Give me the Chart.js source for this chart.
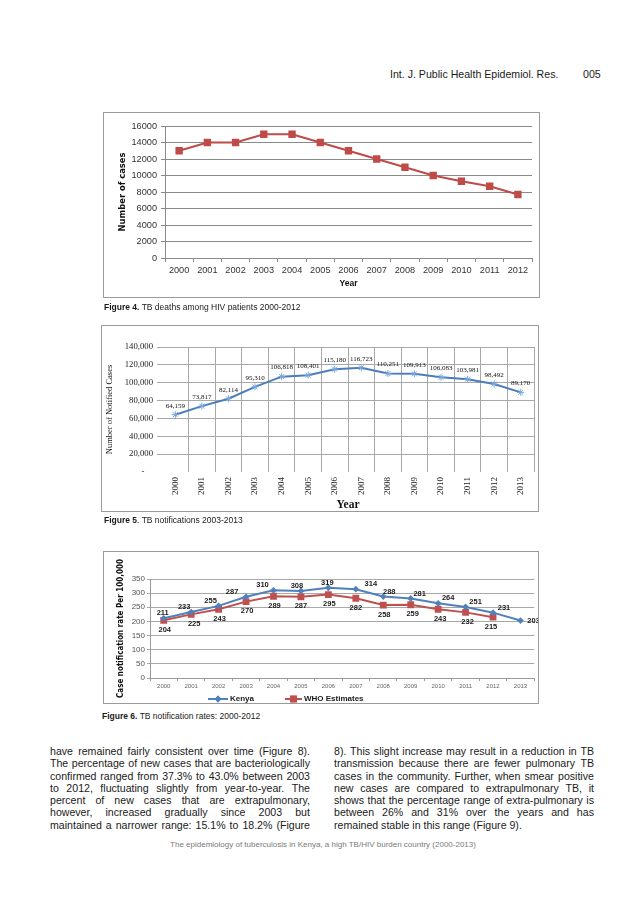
<!DOCTYPE html>
<html>
<head>
<meta charset="utf-8">
<script src="https://cdn.jsdelivr.net/npm/chart.js@4.4.1/dist/chart.umd.min.js"></script>
<style>
  body { margin: 0; background: #fff; }
  #page { position: relative; width: 638px; height: 903px; overflow: hidden; background: #fff;
          font-family: "Liberation Sans", Arial, sans-serif; color: #1a1a1a; }
  .box { position: absolute; border: 1px solid #9a9a9a; box-sizing: border-box; pointer-events: none; }
  canvas { position: absolute; }
  .txt { position: absolute; white-space: nowrap; }
  .cap { position: absolute; white-space: nowrap; font-size: 8.5px; line-height: 10px; color: #1a1a1a; }
  .col { position: absolute; width: 260px; font-size: 10.6px; }
  .ln { height: 12.25px; line-height: 12.25px; white-space: nowrap; }
  .ln.j { display: flex; justify-content: space-between; }
</style>
</head>
<body>
<div id="page">
  <div class="txt" style="left:390px;top:68px;font-size:10.6px;line-height:12px;">Int. J. Public Health Epidemiol. Res.</div>
  <div class="txt" style="left:583px;top:68px;font-size:10.6px;line-height:12px;">005</div>

  <canvas id="c1" width="437" height="186" style="left:103px;top:112px;"></canvas>
  <div class="box" style="left:103px;top:112px;width:437px;height:186px;"></div>
  <div class="cap" style="left:104px;top:302px;"><b>Figure 4.</b> TB deaths among HIV patients 2000-2012</div>

  <canvas id="c2" width="438" height="187" style="left:101px;top:325px;"></canvas>
  <div class="box" style="left:101px;top:325px;width:438px;height:187px;"></div>
  <div class="cap" style="left:104px;top:515px;"><b>Figure 5</b>. TB notifications 2003-2013</div>

  <canvas id="c3" width="436" height="153" style="left:103px;top:551px;"></canvas>
  <div class="box" style="left:103px;top:551px;width:436px;height:153px;"></div>
  <div class="cap" style="left:102px;top:711px;"><b>Figure 6.</b> TB notification rates: 2000-2012</div>

  <div class="col" id="colL" style="left:50px;top:745px;"></div>
  <div class="col" id="colR" style="left:334px;top:745px;"></div>

  <div class="txt" style="left:0;width:646px;text-align:center;top:840px;font-size:8px;line-height:10px;color:#7a7a7a;">The epidemiology of tuberculosis in Kenya, a high TB/HIV burden country (2000-2013)</div>
</div>

<script>
// ---------------- data ----------------
const fig4Years = ['2000','2001','2002','2003','2004','2005','2006','2007','2008','2009','2010','2011','2012'];
const fig4Deaths = [13000, 14000, 14000, 15000, 15000, 14000, 13000, 12000, 11000, 10000, 9300, 8700, 7700];

const fig5Years = ['2000','2001','2002','2003','2004','2005','2006','2007','2008','2009','2010','2011','2012','2013'];
const fig5Notified = [64159, 73817, 82114, 95310, 106818, 108401, 115180, 116723, 110251, 109913, 106083, 103981, 98492, 89170];

const fig6Years = ['2000','2001','2002','2003','2004','2005','2006','2007','2008','2009','2010','2011','2012','2013'];
const fig6Kenya = [211, 233, 255, 287, 310, 308, 319, 314, 288, 281, 264, 251, 231, 203];
const fig6WHO = [204, 225, 243, 270, 289, 287, 295, 282, 258, 259, 243, 232, 215, null];
const fig6SeriesNames = ['Kenya', 'WHO Estimates'];

const leftLines = [
  "have remained fairly consistent over time (Figure 8).",
  "The percentage of new cases that are bacteriologically",
  "confirmed ranged from 37.3% to 43.0% between 2003",
  "to 2012, fluctuating slightly from year-to-year. The",
  "percent of new cases that are extrapulmonary,",
  "however, increased gradually since 2003 but",
  "maintained a narrower range: 15.1% to 18.2% (Figure"
];
const rightLines = [
  "8). This slight increase may result in a reduction in TB",
  "transmission because there are fewer pulmonary TB",
  "cases in the community. Further, when smear positive",
  "new cases are compared to extrapulmonary TB, it",
  "shows that the percentage range of extra-pulmonary is",
  "between 26% and 31% over the years and has",
  "remained stable in this range (Figure 9)."
];

// ---------------- body text ----------------
function fillCol(el, lines, lastJustified) {
  lines.forEach((line, i) => {
    const d = document.createElement('div');
    const justify = i < lines.length - 1 || lastJustified;
    d.className = 'ln' + (justify ? ' j' : '');
    if (justify) {
      line.split(' ').forEach(w => { const s = document.createElement('span'); s.textContent = w; d.appendChild(s); });
    } else {
      d.textContent = line;
    }
    el.appendChild(d);
  });
}
fillCol(document.getElementById('colL'), leftLines, true);
fillCol(document.getElementById('colR'), rightLines, false);

// ---------------- styles ----------------
const SANS = '"Liberation Sans", Arial, sans-serif';
const NARROW = '"Liberation Sans Narrow", "Arial Narrow", "DejaVu Sans Condensed", "Liberation Sans", sans-serif';
const SERIF = '"Liberation Serif", "Times New Roman", serif';
const RED = '#BE4B48';
const BLUE = '#4A7EBB';
Chart.defaults.font.family = SANS;

function labelPlugin(sets) {
  return {
    id: 'ptLabels',
    afterDatasetsDraw(chart) {
      const ctx = chart.ctx;
      sets.forEach(s => {
        const meta = chart.getDatasetMeta(s.dataset);
        const data = chart.data.datasets[s.dataset].data;
        ctx.save();
        ctx.font = s.font; ctx.fillStyle = s.color;
        ctx.textAlign = 'center'; ctx.textBaseline = 'middle';
        meta.data.forEach((pt, i) => {
          const v = data[i];
          if (v === null || v === undefined) return;
          const dx = s.dx ? s.dx[i] : 0;
          const dy = Array.isArray(s.dy) ? s.dy[i] : s.dy;
          ctx.fillText(s.format(v), pt.x + dx, pt.y + dy);
        });
        ctx.restore();
      });
    }
  };
}

// ---------------- Figure 4 ----------------
new Chart(document.getElementById('c1'), {
  type: 'line',
  data: { labels: fig4Years, datasets: [{
    data: fig4Deaths, borderColor: RED, backgroundColor: RED, borderWidth: 2, tension: 0,
    pointStyle: 'rect', pointRadius: 5.2, pointBorderWidth: 0, pointBackgroundColor: RED
  }]},
  options: {
    responsive: false, animation: false,
    layout: { padding: { top: 14, right: 8, left: 0, bottom: 0 } },
    plugins: { legend: { display: false }, tooltip: { enabled: false } },
    scales: {
      x: {
        offset: true,
        grid: { display: true, drawOnChartArea: false, drawTicks: true, tickLength: 4, color: '#8a8a8a', offset: true },
        border: { color: '#8a8a8a' },
        ticks: { font: { family: SANS, size: 9.2 }, color: '#333', padding: 3, autoSkip: false, maxRotation: 0 },
        title: { display: true, text: 'Year', font: { family: SANS, size: 8.5, weight: 'bold' }, color: '#111', padding: { top: 0, bottom: 9.5 } },
        afterFit(s) { s.height = 40; }
      },
      y: {
        min: 0, max: 16000,
        ticks: { stepSize: 2000, font: { family: SANS, size: 9.2 }, color: '#333', padding: 4, callback: v => String(v) },
        grid: { color: '#8a8a8a', tickLength: 4 },
        border: { color: '#8a8a8a' },
        title: { display: true, text: 'Number of cases', font: { family: NARROW, size: 9.3, weight: 'bold' }, color: '#111', padding: { top: 14.5, bottom: 0 } },
        afterFit(s) { s.width = 62; }
      }
    }
  }
});

// ---------------- Figure 5 ----------------
new Chart(document.getElementById('c2'), {
  type: 'line',
  data: { labels: fig5Years, datasets: [{
    data: fig5Notified, borderColor: BLUE, backgroundColor: BLUE, borderWidth: 2, tension: 0,
    pointStyle: 'star', pointRadius: 3.5, pointBorderWidth: 1, pointBorderColor: '#7AA7DE', pointBackgroundColor: '#7AA7DE'
  }]},
  options: {
    responsive: false, animation: false,
    layout: { padding: { top: 22, right: 3, left: 0, bottom: 0 } },
    plugins: { legend: { display: false }, tooltip: { enabled: false } },
    scales: {
      x: {
        offset: true,
        grid: { display: true, offset: true, drawTicks: false, color: c => c.index === 0 ? 'rgba(0,0,0,0)' : '#a8a8a8' },
        border: { display: false },
        ticks: { font: { family: SERIF, size: 9 }, color: '#222', padding: 5, autoSkip: false, minRotation: 90, maxRotation: 90 },
        title: { display: true, text: 'Year', font: { family: SERIF, size: 11.5, weight: 'bold' }, color: '#111', padding: { top: 0, bottom: 0 } },
        afterFit(s) { s.height = 40; }
      },
      y: {
        min: 0, max: 140000,
        ticks: { stepSize: 20000, font: { family: SERIF, size: 8.7 }, color: '#222', padding: 4,
                 callback: v => v === 0 ? '-    ' : v.toLocaleString('en-US') },
        grid: { tickLength: 5, color: c => (c.tick && c.tick.value === 0) ? 'rgba(0,0,0,0)' : '#a8a8a8' },
        border: { display: false },
        title: { display: true, text: 'Number of Notified Cases', font: { family: SERIF, size: 8.5 }, color: '#111', padding: { top: 4, bottom: 0 } },
        afterFit(s) { s.width = 61; }
      }
    }
  },
  plugins: [labelPlugin([{ dataset: 0, font: '7px ' + SERIF, color: '#111', dy: -9, format: v => v.toLocaleString('en-US') }])]
});

// ---------------- Figure 6 ----------------
const kenyaLabelDx = [-1, -7, -8, -14, -11, -4, -1, 15, 6, 9, 10, 10, 11, 13];
const kenyaLabelDy = [-5, -5, -5, -5, -5, -5, -5, -5, -5, -5, -5, -5, -5, 0];
const whoLabelDx = [1, 3, 1, 1, 1, 0, 1, 0, 1, 2, 2, 2, -2, 0];

function legendSwatch(ctx, x1, x2, y, color, style, r) {
  ctx.save();
  ctx.strokeStyle = color; ctx.lineWidth = 2;
  ctx.beginPath(); ctx.moveTo(x1, y); ctx.lineTo(x2, y); ctx.stroke();
  ctx.fillStyle = color;
  Chart.helpers.drawPoint(ctx, { pointStyle: style, radius: r, borderWidth: 0 }, (x1 + x2) / 2, y);
  ctx.fill();
  ctx.restore();
}

new Chart(document.getElementById('c3'), {
  type: 'line',
  data: { labels: fig6Years, datasets: [
    { label: fig6SeriesNames[0], data: fig6Kenya, borderColor: '#4F81BD', backgroundColor: '#4F81BD', borderWidth: 2, tension: 0,
      pointStyle: 'rectRot', pointRadius: 3.4, pointBorderWidth: 0, pointBackgroundColor: '#4F81BD' },
    { label: fig6SeriesNames[1], data: fig6WHO, borderColor: '#C0504D', backgroundColor: '#C0504D', borderWidth: 2, tension: 0,
      pointStyle: 'rect', pointRadius: 4.8, pointBorderWidth: 0, pointBackgroundColor: '#C0504D' }
  ]},
  options: {
    responsive: false, animation: false,
    layout: { padding: { top: 28, right: 4, left: 0, bottom: 0 } },
    plugins: { legend: { display: false }, tooltip: { enabled: false } },
    scales: {
      x: {
        offset: true,
        grid: { display: true, drawOnChartArea: false, drawTicks: true, tickLength: 3, color: '#9a9a9a', offset: true },
        border: { color: '#9a9a9a' },
        ticks: { font: { family: SANS, size: 6 }, color: '#666', padding: 2, autoSkip: false, maxRotation: 0 },
        afterFit(s) { s.height = 26; }
      },
      y: {
        min: 0, max: 350,
        ticks: { stepSize: 50, font: { family: SANS, size: 8 }, color: '#555', padding: 2 },
        grid: { color: '#a8a8a8', tickLength: 3 },
        border: { color: '#9a9a9a' },
        title: { display: true, text: 'Case notification rate Per 100,000', font: { family: NARROW, size: 8, weight: 'bold' }, color: '#111', padding: { top: 13, bottom: 0 } },
        afterFit(s) { s.width = 47; }
      }
    }
  },
  plugins: [
    labelPlugin([
      { dataset: 0, font: 'bold 7.5px ' + SANS, color: '#1a1a1a', dx: kenyaLabelDx, dy: kenyaLabelDy, format: v => String(v) },
      { dataset: 1, font: 'bold 7.5px ' + SANS, color: '#1a1a1a', dx: whoLabelDx, dy: 9.5, format: v => String(v) }
    ]),
    {
      id: 'customLegend',
      afterDraw(chart) {
        const ctx = chart.ctx;
        const y = chart.height - 5;
        const ds = chart.data.datasets;
        legendSwatch(ctx, 105, 125, y, ds[0].borderColor, 'rectRot', 3.4);
        legendSwatch(ctx, 182, 199, y, ds[1].borderColor, 'rect', 4.8);
        ctx.save();
        ctx.font = 'bold 8px ' + SANS; ctx.fillStyle = '#1a1a1a';
        ctx.textAlign = 'left'; ctx.textBaseline = 'middle';
        ctx.fillText(ds[0].label, 127, y);
        ctx.fillText(ds[1].label, 201, y);
        ctx.restore();
      }
    }
  ]
});
</script>
</body>
</html>
